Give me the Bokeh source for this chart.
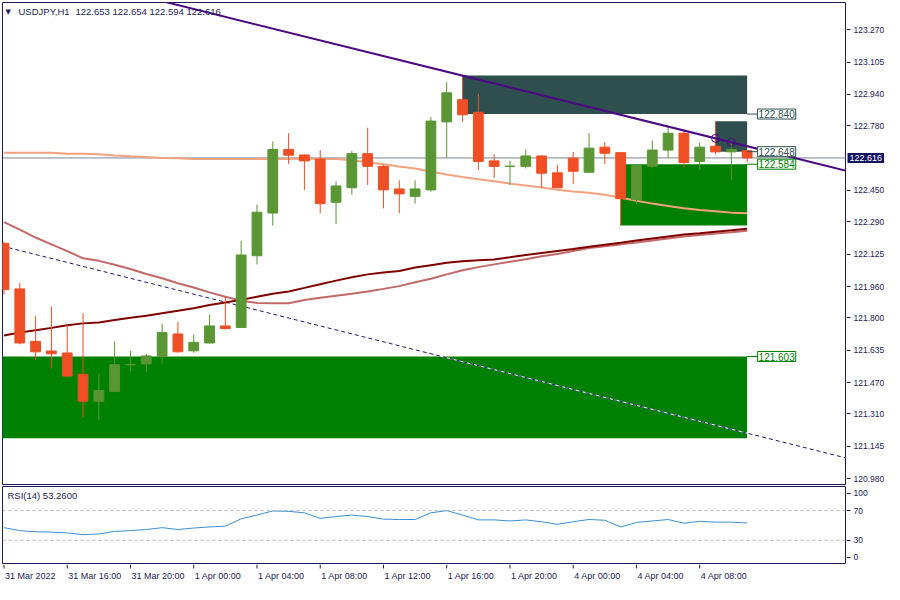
from bokeh.plotting import figure
from bokeh.models import (Range1d, FixedTicker, NumeralTickFormatter, Label, Span,
                          ColumnDataSource)
from bokeh.core.properties import value
from bokeh.layouts import column, row
from bokeh.embed import file_html
from bokeh.resources import INLINE

# ---------------- data ----------------
bars = list(range(48))
opens = [122.180, 121.948, 121.680, 121.631, 121.621, 121.512, 121.375, 121.424, 121.561, 121.565,
         121.602, 121.718, 121.632, 121.672, 121.759, 121.751, 122.117, 122.335, 122.659, 122.631,
         122.610, 122.390, 122.464, 122.638, 122.573, 122.458, 122.420, 122.453, 122.800, 122.913,
         122.849, 122.601, 122.573, 122.573, 122.626, 122.540, 122.615, 122.543, 122.671, 122.643,
         122.403, 122.573, 122.656, 122.742, 122.598, 122.676, 122.647, 122.653]
highs = [122.190, 121.979, 121.809, 121.858, 121.763, 121.824, 121.517, 121.680, 121.631, 121.616,
         121.771, 121.779, 121.715, 121.817, 121.906, 122.194, 122.378, 122.700, 122.742, 122.635,
         122.656, 122.497, 122.651, 122.770, 122.580, 122.502, 122.502, 122.824, 123.003, 123.036,
         122.943, 122.635, 122.601, 122.659, 122.628, 122.580, 122.647, 122.742, 122.697, 122.645,
         122.580, 122.705, 122.775, 122.761, 122.695, 122.803, 122.697, 122.654]
lows = [121.919, 121.665, 121.586, 121.541, 121.497, 121.292, 121.280, 121.423, 121.528, 121.523,
        121.566, 121.622, 121.622, 121.670, 121.740, 121.749, 122.073, 122.271, 122.585, 122.453,
        122.334, 122.279, 122.428, 122.478, 122.359, 122.334, 122.383, 122.444, 122.618, 122.800,
        122.555, 122.514, 122.478, 122.563, 122.464, 122.462, 122.484, 122.543, 122.585, 122.271,
        122.382, 122.563, 122.615, 122.568, 122.555, 122.635, 122.502, 122.594]
closes = [121.944, 121.672, 121.627, 121.617, 121.503, 121.375, 121.429, 121.561, 121.562, 121.606,
          121.725, 121.627, 121.675, 121.759, 121.746, 122.121, 122.339, 122.659, 122.630, 122.601,
          122.383, 122.473, 122.638, 122.573, 122.453, 122.433, 122.458, 122.804, 122.948, 122.836,
          122.598, 122.573, 122.574, 122.626, 122.538, 122.464, 122.548, 122.666, 122.640, 122.408,
          122.577, 122.656, 122.742, 122.593, 122.671, 122.647, 122.659, 122.616]

ma_salmon = [122.643, 122.643, 122.643, 122.643, 122.638, 122.638, 122.635, 122.628, 122.624, 122.621,
             122.616, 122.614, 122.610, 122.610, 122.610, 122.610, 122.610, 122.611, 122.611, 122.613,
             122.611, 122.610, 122.604, 122.594, 122.584, 122.572, 122.562, 122.547, 122.532, 122.519,
             122.507, 122.497, 122.485, 122.475, 122.465, 122.454, 122.445, 122.439, 122.428, 122.413,
             122.398, 122.383, 122.371, 122.359, 122.351, 122.344, 122.337, 122.334]
ma_maroon = [121.710, 121.725, 121.737, 121.749, 121.762, 121.772, 121.776, 121.789, 121.801, 121.811,
             121.824, 121.836, 121.849, 121.866, 121.878, 121.893, 121.908, 121.923, 121.935, 121.953,
             121.972, 121.990, 122.007, 122.022, 122.032, 122.039, 122.057, 122.069, 122.081, 122.089,
             122.094, 122.098, 122.109, 122.121, 122.131, 122.141, 122.151, 122.163, 122.173, 122.183,
             122.195, 122.205, 122.215, 122.225, 122.232, 122.240, 122.247, 122.255]
ma_rosy = [122.289, 122.250, 122.210, 122.175, 122.141, 122.104, 122.091, 122.071, 122.049, 122.024,
           122.002, 121.977, 121.955, 121.930, 121.908, 121.888, 121.876, 121.875, 121.875, 121.891,
           121.903, 121.913, 121.923, 121.935, 121.948, 121.962, 121.982, 122.000, 122.022, 122.043,
           122.059, 122.073, 122.086, 122.099, 122.114, 122.126, 122.141, 122.156, 122.166, 122.175,
           122.185, 122.195, 122.205, 122.215, 122.223, 122.230, 122.237, 122.245]

rsi_values = [47, 43, 41.5, 41, 40, 37.5, 38.5, 42, 43, 44.5, 47, 44.5, 46.5, 48, 49, 59, 64, 69.5,
              69, 67, 59.5, 62, 64, 62, 58.5, 58, 58, 67, 70, 64, 57.5, 57.5, 56, 57.5, 55, 51.5,
              55, 58, 57, 48, 54, 56, 58, 53, 55.5, 54.5, 54.5, 53.26]

# trend line anchors (bar, price) and parallel dashed line anchors
trend_x = [45, 46]
trend_y = [122.716, 122.696]
dash_x = [0, 47]
dash_y = [122.164, 121.212]

# zones: slate, slate, green, green
zone_left = [29, 45, 39, -3]
zone_right = [47, 47, 47, 47]
zone_top = [123.036, 122.803, 122.584, 121.603]
zone_bottom = [122.840, 122.648, 122.271, 121.186]
zone_label_price = [122.840, 122.648, 122.584, 121.603]

last_price = 122.616
price_ticks = [120.980, 121.145, 121.310, 121.470, 121.635, 121.800, 121.960, 122.125,
               122.290, 122.450, 122.780, 122.940, 123.105, 123.270]
time_tick_bars = [0, 4, 8, 12, 16, 20, 24, 28, 32, 36, 40, 44]
time_tick_labels = ["31 Mar 2022", "31 Mar 16:00", "31 Mar 20:00", "1 Apr 00:00", "1 Apr 04:00",
                    "1 Apr 08:00", "1 Apr 12:00", "1 Apr 16:00", "1 Apr 20:00", "4 Apr 00:00",
                    "4 Apr 04:00", "4 Apr 08:00"]
rsi_level_lines = [30, 70]
rsi_ticks = [7, 30, 70, 93.5]
rsi_tick_text = {7: "0", 30: "30", 70: "70", 93.5: "100"}

# ---------------- styles ----------------
NAVY = "#1b1b55"
BULL = "#5a9634"
BEAR = "#f04e24"
SLATE = "#2f4f4f"
GREEN = "#008000"
FONT = "Liberation Sans"

PW = 846      # width of the plotting panels
AW = 38       # width of the price-scale column
MAIN_H = 485
RSI_H = 79
STRIP_H = 20

xr = Range1d(-0.094, 53.22)
yr_main = Range1d(120.950, 123.409)
yr_rsi = Range1d(-1.3, 102.5)


def base_fig(width, height, x_range, y_range, top, bottom, left, right):
    f = figure(width=width, height=height, x_range=x_range, y_range=y_range,
               output_backend="svg", toolbar_location=None, x_axis_location=None,
               y_axis_location=None, min_border_left=left, min_border_right=right,
               min_border_top=top, min_border_bottom=bottom)
    f.grid.visible = False
    f.background_fill_color = "white"
    f.border_fill_color = "white"
    return f


def scale_fig(height, y_range, top, bottom, ticks, overrides=None, fmt=None):
    a = figure(width=AW, height=height, x_range=Range1d(0, 1), y_range=y_range,
               output_backend="svg", toolbar_location=None, x_axis_location=None,
               y_axis_location="right", min_border_left=0, min_border_right=0,
               min_border_top=top, min_border_bottom=bottom)
    a.grid.visible = False
    a.outline_line_color = None
    a.background_fill_color = "white"
    a.border_fill_color = "white"
    ax = a.yaxis[0]
    ax.fixed_location = 0
    ax.ticker = FixedTicker(ticks=ticks)
    if fmt is not None:
        ax.formatter = fmt
    if overrides is not None:
        ax.major_label_overrides = overrides
    ax.axis_line_color = None
    ax.major_tick_out = 4
    ax.major_tick_in = 0
    ax.minor_tick_line_color = None
    ax.major_tick_line_color = NAVY
    ax.major_label_text_color = NAVY
    ax.major_label_text_font = FONT
    ax.major_label_text_font_size = "8.5px"
    ax.major_label_standoff = 3
    return a


# ---------------- main price panel ----------------
p = base_fig(PW, MAIN_H, xr, yr_main, 2, 1, 2, 1)
p.outline_line_color = NAVY

zone_colors = [SLATE, SLATE, GREEN, GREEN]
p.quad(left=zone_left, right=zone_right, top=zone_top, bottom=zone_bottom,
       fill_color=zone_colors, line_color=None)

x_lo, x_hi = -1.0, 54.0
ds = (dash_y[1] - dash_y[0]) / (dash_x[1] - dash_x[0])
dash_line_y = [dash_y[0] + ds * (x_lo - dash_x[0]), dash_y[0] + ds * (x_hi - dash_x[0])]
p.line([x_lo, x_hi], dash_line_y, line_color="white", line_width=1)
p.line([x_lo, x_hi], dash_line_y, line_color="#2a1870", line_width=1, line_dash="4 3")

p.add_layout(Span(location=last_price, dimension="width", line_color="#7a8696",
                  line_width=1, level="underlay"))

p.line(bars, ma_salmon, line_color="#f4a27e", line_width=2)
p.line(bars, ma_rosy, line_color="#c46767", line_width=2)
p.line(bars, ma_maroon, line_color="#800000", line_width=2)

colors = [BULL if c >= o else BEAR for o, c in zip(opens, closes)]
body_top = [max(o, c) for o, c in zip(opens, closes)]
body_bot = [min(o, c) for o, c in zip(opens, closes)]
src = ColumnDataSource(dict(x=bars, hi=highs, lo=lows, top=body_top, bot=body_bot, color=colors))
p.segment(x0="x", y0="lo", x1="x", y1="hi", line_color="color", line_width=1, source=src)
p.vbar(x="x", width=0.62, top="top", bottom="bot", fill_color="color", line_color="color",
       line_width=1, source=src)

ts = (trend_y[1] - trend_y[0]) / (trend_x[1] - trend_x[0])
p.line([x_lo, x_hi], [trend_y[0] + ts * (x_lo - trend_x[0]), trend_y[0] + ts * (x_hi - trend_x[0])],
       line_color="#4b0a82", line_width=2)
p.scatter(trend_x, trend_y, marker="circle", size=8, fill_alpha=0, line_color="#4b0a82",
          line_width=1)

label_gap = 0.66
for i, price in enumerate(zone_label_price):
    col = zone_colors[i]
    p.segment(x0=[zone_right[i]], y0=[price], x1=[zone_right[i] + label_gap], y1=[price],
              line_color=col, line_width=1)
    p.add_layout(Label(x=zone_right[i] + label_gap, y=price, text=f"{price:.3f}",
                       text_color=col, text_font=FONT, text_font_size="10px",
                       text_baseline="middle", text_align="left",
                       background_fill_color="white", border_line_color=col,
                       border_line_width=1, padding=1))

frame_h = MAIN_H - 3
p.add_layout(Label(x=3, y=frame_h - 9, x_units="screen", y_units="screen", text="\u25bc",
                   text_color=NAVY, text_font="DejaVu Sans", text_font_size="7px",
                   text_baseline="middle"))
p.add_layout(Label(x=16, y=frame_h - 9, x_units="screen", y_units="screen", text="USDJPY,H1",
                   text_color=NAVY, text_font=FONT, text_font_size="9.5px",
                   text_baseline="middle"))
p.add_layout(Label(x=73, y=frame_h - 9, x_units="screen", y_units="screen",
                   text=f"{opens[-1]:.3f} {highs[-1]:.3f} {lows[-1]:.3f} {closes[-1]:.3f}",
                   text_color=NAVY, text_font=FONT, text_font_size="9.5px",
                   text_baseline="middle"))

pa = scale_fig(MAIN_H, yr_main, 2, 1, price_ticks, fmt=NumeralTickFormatter(format="0.000"))
pa.add_layout(Label(x=0, y=last_price, text=f"{last_price:.3f}", x_offset=1,
                    text_color="white", text_font=FONT, text_font_size="9px",
                    text_baseline="middle", text_align="left",
                    background_fill_color="#14145e", padding=2))

# ---------------- RSI panel ----------------
r = base_fig(PW, RSI_H, xr, yr_rsi, 1, 1, 2, 1)
r.outline_line_color = NAVY
for lvl in rsi_level_lines:
    r.add_layout(Span(location=lvl, dimension="width", line_color="#b4b4b4",
                      line_dash="3 3", line_width=1))
r.line(bars, rsi_values, line_color="#3a8fd6", line_width=1)
r.add_layout(Label(x=5, y=RSI_H - 2 - 9, x_units="screen", y_units="screen",
                   text=f"RSI(14) {rsi_values[-1]:.4f}", text_color=NAVY, text_font=FONT,
                   text_font_size="9.5px", text_baseline="middle"))

ra = scale_fig(RSI_H, yr_rsi, 1, 1, rsi_ticks, overrides=rsi_tick_text)

# ---------------- time scale strip ----------------
s = base_fig(PW, STRIP_H, xr, Range1d(0, STRIP_H), 0, 0, 2, 1)
s.outline_line_color = None
tsrc = ColumnDataSource(dict(x=time_tick_bars, t=time_tick_labels))
s.segment(x0="x", y0=STRIP_H, x1="x", y1=STRIP_H - 4, line_color=NAVY, line_width=1, source=tsrc)
s.text(x="x", y=STRIP_H - 11, text="t", source=tsrc, text_color=NAVY,
       text_font=value(FONT), text_font_size=value("9px"), text_align="left",
       text_baseline="middle", x_offset=1)
sa = figure(width=AW, height=STRIP_H, output_backend="svg", toolbar_location=None,
            x_axis_location=None, y_axis_location=None, min_border=0)
sa.outline_line_color = None
sa.grid.visible = False

layout = column(row(p, pa), row(r, ra), row(s, sa))
open("out.html", "w").write(file_html(layout, INLINE))
